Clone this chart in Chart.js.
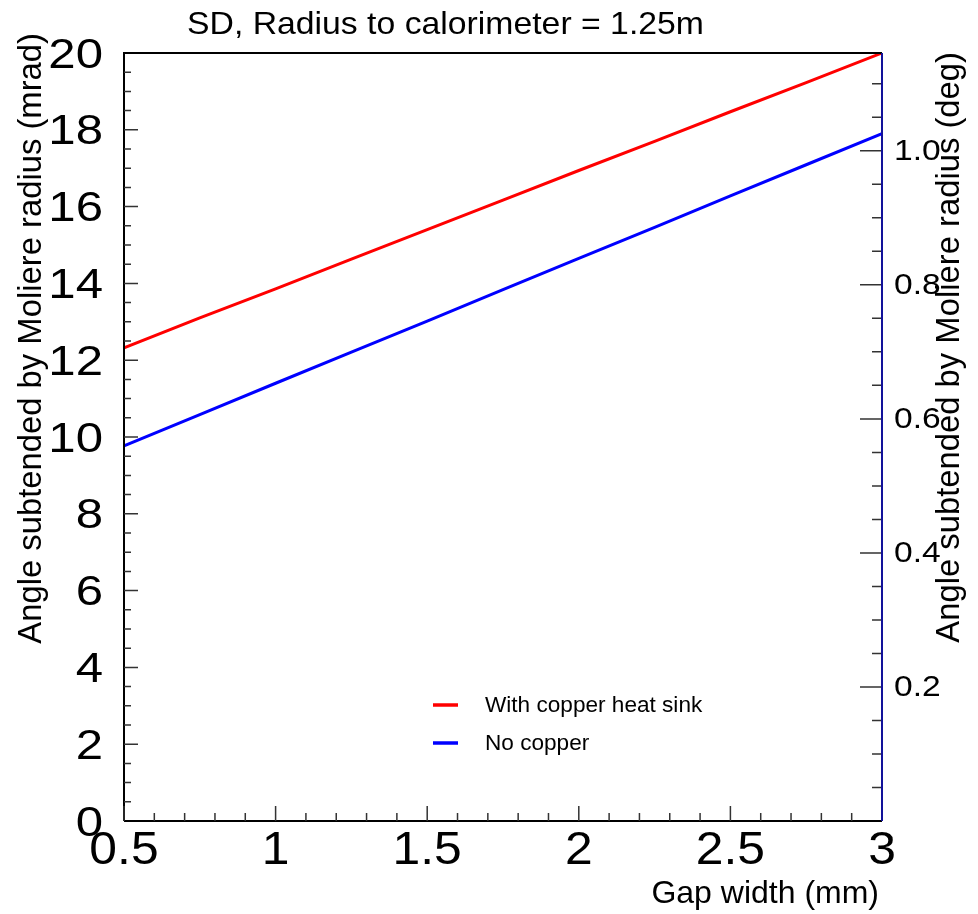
<!DOCTYPE html>
<html>
<head>
<meta charset="utf-8">
<script src="https://cdn.jsdelivr.net/npm/chart.js@4"></script>
<style>
  html, body { margin: 0; padding: 0; background: #fff; }
  #wrap { width: 978px; height: 914px; }
</style>
</head>
<body>
<div id="wrap"><canvas id="chart" width="978" height="914"></canvas></div>
<script>
// values
const gapWidth = [0.5, 0.75, 1.0, 1.25, 1.5, 1.75, 2.0, 2.25, 2.5, 2.75, 3.0];
const withCopper = [12.32, 13.10, 13.86, 14.63, 15.40, 16.17, 16.94, 17.70, 18.47, 19.23, 20.0];
const noCopper = [9.77, 10.58, 11.40, 12.21, 13.02, 13.84, 14.65, 15.46, 16.28, 17.09, 17.90];

const seriesLabels = ['With copper heat sink', 'No copper'];
const xTickLabels = ['0.5', '1', '1.5', '2', '2.5', '3'];
const yTickLabels = ['0', '2', '4', '6', '8', '10', '12', '14', '16', '18', '20'];
const degTickLabels = ['0.2', '0.4', '0.6', '0.8', '1.0'];

const MRAD_TO_DEG = 180 / (1000 * Math.PI);
const FONT = '"Liberation Sans", Arial, Helvetica, sans-serif';

function pts(ys) {
    return gapWidth.map((x, i) => ({ x: x, y: ys[i] }));
}

function stretchText(ctx, text, x, y, sx, align) {
    ctx.save();
    ctx.translate(x, y);
    ctx.scale(sx, 1);
    ctx.textAlign = align;
    ctx.fillText(text, 0, 0);
    ctx.restore();
}

const rootAxes = {
    id: 'rootAxes',
    afterDraw(chart) {
        const ctx = chart.ctx;
        const { left, right, top, bottom } = chart.chartArea;
        const xs = chart.scales.x, ys = chart.scales.y, ds = chart.scales.y2;

        ctx.save();
        ctx.lineCap = 'butt';

        // frame
        ctx.strokeStyle = '#000';
        ctx.lineWidth = 2;
        ctx.beginPath();
        ctx.moveTo(left, bottom); ctx.lineTo(left, top); ctx.lineTo(right, top);
        ctx.moveTo(left, bottom); ctx.lineTo(right, bottom);
        ctx.stroke();

        // ticks
        ctx.strokeStyle = '#333';
        ctx.lineWidth = 1.5;
        ctx.beginPath();
        for (let i = 5; i <= 30; i++) {
            const px = xs.getPixelForValue(i / 10);
            const len = i % 5 === 0 ? 15 : 8;
            ctx.moveTo(px, bottom); ctx.lineTo(px, bottom - len);
        }
        for (let i = 1; i < 40; i++) {
            const py = ys.getPixelForValue(i / 2);
            const len = i % 4 === 0 ? 14 : 7;
            ctx.moveTo(left, py); ctx.lineTo(left + len, py);
        }
        for (let i = 1; i <= 22; i++) {
            const py = ds.getPixelForValue(i * 0.05);
            const len = i % 4 === 0 ? 22 : 10;
            ctx.moveTo(right, py); ctx.lineTo(right - len, py);
        }
        ctx.stroke();

        // right axis line
        ctx.strokeStyle = '#12129a';
        ctx.lineWidth = 2;
        ctx.beginPath();
        ctx.moveTo(right, top); ctx.lineTo(right, bottom);
        ctx.stroke();

        // tick labels
        ctx.fillStyle = '#000';
        ctx.textBaseline = 'middle';
        ctx.font = '42px ' + FONT;
        yTickLabels.forEach(t => {
            stretchText(ctx, t, 103, ys.getPixelForValue(Number(t)) + 3, 1.17, 'right');
        });
        ctx.font = '47px ' + FONT;
        xTickLabels.forEach(t => {
            stretchText(ctx, t, xs.getPixelForValue(Number(t)), 851, 1.06, 'center');
        });
        ctx.font = '30px ' + FONT;
        degTickLabels.forEach(t => {
            stretchText(ctx, t, 894, ds.getPixelForValue(Number(t)) + 1, 1.12, 'left');
        });

        // titles
        ctx.textBaseline = 'alphabetic';
        ctx.font = '32px ' + FONT;
        stretchText(ctx, 'SD, Radius to calorimeter = 1.25m', 187, 34, 1.055, 'left');

        ctx.font = '32px ' + FONT;
        ctx.textAlign = 'right';
        ctx.fillText('Gap width (mm)', 879, 903);

        ctx.font = '32.8px ' + FONT;
        ctx.save();
        ctx.translate(41, 33);
        ctx.rotate(-Math.PI / 2);
        ctx.textAlign = 'right';
        ctx.fillText('Angle subtended by Moliere radius (mrad)', 0, 0);
        ctx.restore();

        ctx.save();
        ctx.translate(959, 52);
        ctx.rotate(-Math.PI / 2);
        ctx.textAlign = 'right';
        ctx.fillText('Angle subtended by Moliere radius (deg)', 0, 0);
        ctx.restore();

        // legend
        ctx.font = '22.6px ' + FONT;
        ctx.textAlign = 'left';
        ctx.textBaseline = 'middle';
        chart.data.datasets.forEach((d, i) => {
            const ly = 705 + i * 38;
            ctx.strokeStyle = d.borderColor;
            ctx.lineWidth = 3.5;
            ctx.beginPath();
            ctx.moveTo(433, ly); ctx.lineTo(458, ly);
            ctx.stroke();
            ctx.fillStyle = '#000';
            ctx.fillText(d.label, 485, ly + 1);
        });

        ctx.restore();
    }
};

new Chart(document.getElementById('chart'), {
    type: 'line',
    data: {
        datasets: [
            {
                label: seriesLabels[0],
                data: pts(withCopper),
                borderColor: '#ff0000',
                borderWidth: 3,
                pointRadius: 0,
                tension: 0,
                fill: false
            },
            {
                label: seriesLabels[1],
                data: pts(noCopper),
                borderColor: '#0000ff',
                borderWidth: 3,
                pointRadius: 0,
                tension: 0,
                fill: false
            }
        ]
    },
    options: {
        responsive: false,
        animation: false,
        devicePixelRatio: 1,
        layout: { padding: { left: 124, top: 53, right: 96, bottom: 93 } },
        plugins: {
            legend: { display: false },
            title: { display: false },
            tooltip: { enabled: false }
        },
        scales: {
            x: { type: 'linear', min: 0.5, max: 3, display: false },
            y: { type: 'linear', min: 0, max: 20, display: false },
            y2: { type: 'linear', min: 0, max: 20 * MRAD_TO_DEG, display: false }
        }
    },
    plugins: [rootAxes]
});
</script>
</body>
</html>
